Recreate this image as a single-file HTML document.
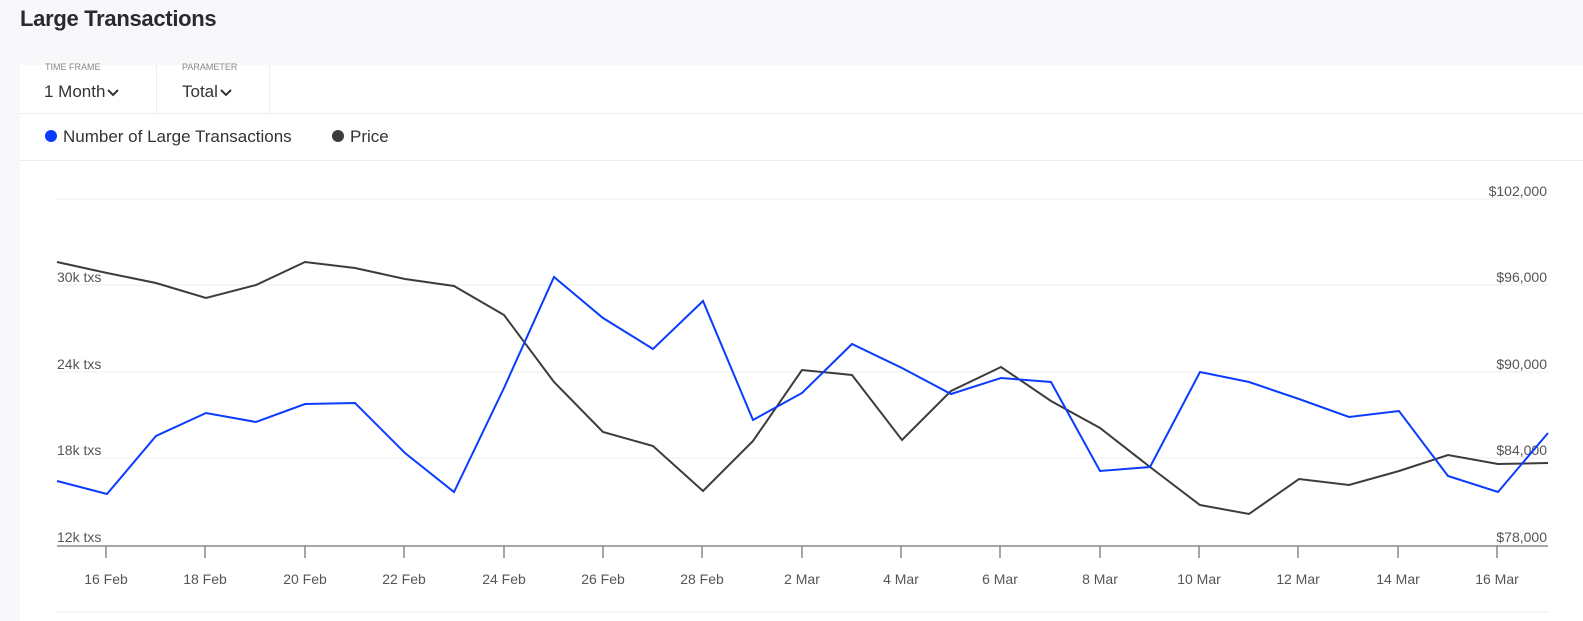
<!DOCTYPE html>
<html><head><style>
body{margin:0;width:1583px;height:621px;background:#f8f8fa;font-family:"Liberation Sans",sans-serif;overflow:hidden;position:relative}
.t{position:absolute;left:20px;top:6px;font-size:22px;font-weight:bold;color:#2a2a2e;letter-spacing:-0.3px}
.card{position:absolute;left:20px;top:65px;width:1563px;height:556px;background:#fff}
.lab{position:absolute;font-size:9px;color:#888;top:-3px}
.sel{position:absolute;font-size:17px;color:#333;top:17px}
.sel svg{vertical-align:middle;margin-left:2px}
</style></head><body>
<div class="t">Large Transactions</div>
<div class="card">
<div class="lab" style="left:25px">TIME FRAME</div>
<div class="sel" style="left:24px">1 Month<svg width="12" height="8"><polyline points="1,1 6,6 11,1" fill="none" stroke="#333" stroke-width="2"/></svg></div>
<div style="position:absolute;left:136px;top:0;width:1px;height:48px;background:#eee"></div>
<div class="lab" style="left:162px">PARAMETER</div>
<div class="sel" style="left:162px">Total<svg width="12" height="8"><polyline points="1,1 6,6 11,1" fill="none" stroke="#333" stroke-width="2"/></svg></div>
<div style="position:absolute;left:249px;top:0;width:1px;height:48px;background:#eee"></div>
<div style="position:absolute;left:0;top:48px;width:1563px;height:1px;background:#eee"></div>
<div style="position:absolute;left:0;top:95px;width:1563px;height:1px;background:#eee"></div>
<div style="position:absolute;left:25px;top:65px;width:12px;height:12px;border-radius:50%;background:#0a3cff"></div>
<div style="position:absolute;left:43px;top:62px;font-size:17px;color:#333">Number of Large Transactions</div>
<div style="position:absolute;left:312px;top:65px;width:12px;height:12px;border-radius:50%;background:#3c3c3c"></div>
<div style="position:absolute;left:330px;top:62px;font-size:17px;color:#333">Price</div>
</div>
<svg style="position:absolute;left:0;top:0" width="1583" height="621">
<g stroke="#ececec" stroke-width="1">
<line x1="57" y1="199" x2="1548" y2="199"/><line x1="57" y1="285" x2="1548" y2="285"/>
<line x1="57" y1="372" x2="1548" y2="372"/><line x1="57" y1="458" x2="1548" y2="458"/>
<line x1="57" y1="612" x2="1548" y2="612"/>
</g>
<line x1="57" y1="546" x2="1548" y2="546" stroke="#888" stroke-width="1.5"/>
<g stroke="#888" stroke-width="1.5">
<line x1="106" y1="546" x2="106" y2="558"/><line x1="205" y1="546" x2="205" y2="558"/><line x1="305" y1="546" x2="305" y2="558"/><line x1="404" y1="546" x2="404" y2="558"/><line x1="504" y1="546" x2="504" y2="558"/><line x1="603" y1="546" x2="603" y2="558"/><line x1="702" y1="546" x2="702" y2="558"/><line x1="802" y1="546" x2="802" y2="558"/><line x1="901" y1="546" x2="901" y2="558"/><line x1="1000" y1="546" x2="1000" y2="558"/><line x1="1100" y1="546" x2="1100" y2="558"/><line x1="1199" y1="546" x2="1199" y2="558"/><line x1="1298" y1="546" x2="1298" y2="558"/><line x1="1398" y1="546" x2="1398" y2="558"/><line x1="1497" y1="546" x2="1497" y2="558"/>
</g>
<g font-family="Liberation Sans,sans-serif" font-size="14" fill="#555" text-anchor="middle">
<text x="106" y="584">16 Feb</text><text x="205" y="584">18 Feb</text><text x="305" y="584">20 Feb</text><text x="404" y="584">22 Feb</text><text x="504" y="584">24 Feb</text><text x="603" y="584">26 Feb</text><text x="702" y="584">28 Feb</text><text x="802" y="584">2 Mar</text><text x="901" y="584">4 Mar</text><text x="1000" y="584">6 Mar</text><text x="1100" y="584">8 Mar</text><text x="1199" y="584">10 Mar</text><text x="1298" y="584">12 Mar</text><text x="1398" y="584">14 Mar</text><text x="1497" y="584">16 Mar</text>
</g>
<g font-family="Liberation Sans,sans-serif" font-size="14" fill="#555">
<text x="57" y="282">30k txs</text><text x="57" y="369">24k txs</text><text x="57" y="455">18k txs</text><text x="57" y="542">12k txs</text>
</g>
<g font-family="Liberation Sans,sans-serif" font-size="14" fill="#555" text-anchor="end">
<text x="1547" y="196">$102,000</text><text x="1547" y="282">$96,000</text><text x="1547" y="369">$90,000</text><text x="1547" y="455">$84,000</text><text x="1547" y="542">$78,000</text>
</g>
<polyline fill="none" stroke="#3c3c3c" stroke-width="2" points="57,262 107,273 156,283 206,298 256,285 305,262 355,268 405,279 454,286 504,315 554,382 603,432 653,446 703,491 753,441 802,370 852,375 902,440 951,391 1001,367 1051,401 1100,428 1150,467 1200,505 1249,514 1299,479 1349,485 1399,471 1448,455 1498,464 1548,463"/>
<polyline fill="none" stroke="#0a3cff" stroke-width="2" points="57,481 107,494 156,436 206,413 256,422 305,404 355,403 405,453 454,492 504,388 554,277 603,318 653,349 703,301 753,420 802,393 852,344 902,368 951,394 1001,378 1051,382 1100,471 1150,467 1200,372 1249,382 1299,399 1349,417 1399,411 1448,476 1498,492 1548,433"/>
</svg>
</body></html>
